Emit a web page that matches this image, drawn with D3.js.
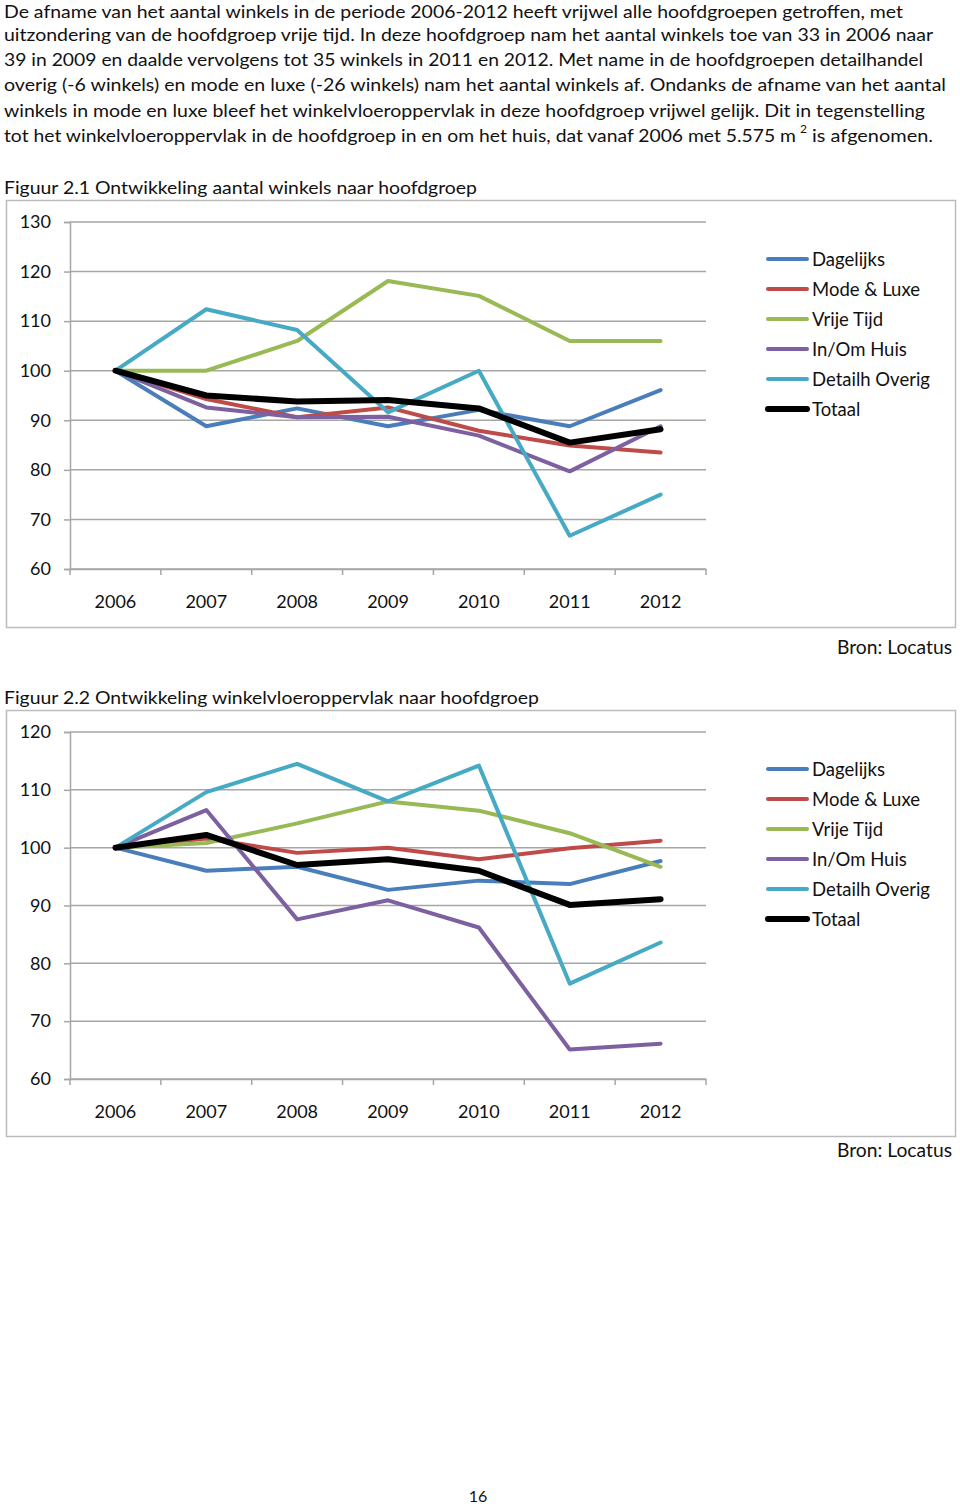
<!DOCTYPE html>
<html><head><meta charset="utf-8">
<script src="https://cdn.jsdelivr.net/npm/d3@7"></script>
<style>
body{margin:0;background:#fff;}
svg{display:block;font-family:Lato, "Open Sans", sans-serif;}
</style></head>
<body>
<svg id="page" width="960" height="1506"></svg>
<script>
const years = ["2006","2007","2008","2009","2010","2011","2012"];
const seriesNames = ["Dagelijks","Mode & Luxe","Vrije Tijd","In/Om Huis","Detailh Overig","Totaal"];
const seriesColors = ["#4A7EBB","#BE4B48","#98B954","#7D60A0","#46AAC5","#000000"];

// Figuur 2.1 - aantal winkels (index 2006 = 100)
const winkelsDagelijks = [100, 88.8, 92.4, 88.8, 92.1, 88.8, 96.1];
const winkelsMode      = [100, 94.3, 90.6, 92.6, 87.9, 84.9, 83.5];
const winkelsVrije     = [100, 100, 106.0, 118.1, 115.1, 106.0, 106.0];
const winkelsHuis      = [100, 92.6, 90.6, 90.7, 86.9, 79.7, 88.8];
const winkelsOverig    = [100, 112.4, 108.2, 91.6, 100, 66.7, 75.0];
const winkelsTotaal    = [100, 95.0, 93.8, 94.1, 92.4, 85.5, 88.2];
const ticks1 = [60,70,80,90,100,110,120,130];

// Figuur 2.2 - winkelvloeroppervlak (index 2006 = 100)
const wvoDagelijks = [100, 96.0, 96.7, 92.7, 94.3, 93.7, 97.7];
const wvoMode      = [100, 101.6, 99.1, 100.0, 98.0, 99.9, 101.2];
const wvoVrije     = [100, 100.8, 104.2, 108.0, 106.4, 102.5, 96.7];
const wvoHuis      = [100, 106.5, 87.6, 90.9, 86.2, 65.1, 66.1];
const wvoOverig    = [100, 109.6, 114.5, 108.0, 114.2, 76.5, 83.6];
const wvoTotaal    = [100, 102.2, 97.0, 98.0, 96.0, 90.1, 91.1];
const ticks2 = [60,70,80,90,100,110,120];

const paragraph = [
 "De afname van het aantal winkels in de periode 2006-2012 heeft vrijwel alle hoofdgroepen getroffen, met",
 "uitzondering van de hoofdgroep vrije tijd. In deze hoofdgroep nam het aantal winkels toe van 33 in 2006 naar",
 "39 in 2009 en daalde vervolgens tot 35 winkels in 2011 en 2012. Met name in de hoofdgroepen detailhandel",
 "overig (-6 winkels) en mode en luxe (-26 winkels) nam het aantal winkels af. Ondanks de afname van het aantal",
 "winkels in mode en luxe bleef het winkelvloeroppervlak in deze hoofdgroep vrijwel gelijk. Dit in tegenstelling"
];
const paraWidths = [899, 929, 919, 942, 921];
const paraY = [18, 40.5, 66, 91, 116.5];

const svg = d3.select("#page");
const textCol = "#111";

// paragraph
paragraph.forEach((t,i)=>{
  svg.append("text").attr("x",4).attr("y",paraY[i]).attr("font-size",18)
    .attr("fill",textCol).attr("textLength",paraWidths[i]).attr("lengthAdjust","spacingAndGlyphs").text(t);
});
svg.append("text").attr("x",4).attr("y",142).attr("font-size",18).attr("fill",textCol)
  .attr("textLength",792).attr("lengthAdjust","spacingAndGlyphs")
  .text("tot het winkelvloeroppervlak in de hoofdgroep in en om het huis, dat vanaf 2006 met 5.575 m");
svg.append("text").attr("x",800).attr("y",133).attr("font-size",12).attr("fill",textCol).text("2");
svg.append("text").attr("x",812).attr("y",142).attr("font-size",18).attr("fill",textCol)
  .attr("textLength",121).attr("lengthAdjust","spacingAndGlyphs").text("is afgenomen.");

function chart(cfg){
  const g = svg.append("g");
  // title
  svg.append("text").attr("x",4).attr("y",cfg.titleY).attr("font-size",18).attr("fill",textCol)
    .attr("textLength",cfg.titleW).attr("lengthAdjust","spacingAndGlyphs").text(cfg.title);
  // border
  g.append("rect").attr("x",6.5).attr("y",cfg.boxTop+0.5).attr("width",949).attr("height",cfg.boxBottom-cfg.boxTop)
    .attr("fill","#fff").attr("stroke","#bcbcbc").attr("stroke-width",1.5);
  const x = d3.scaleBand().domain(years).range([70,706]);
  const y = d3.scaleLinear().domain(cfg.domain).range([cfg.yBottom,cfg.yTop]);
  // gridlines
  g.append("g").selectAll("line").data(cfg.ticks).join("line")
    .attr("x1",70).attr("x2",706).attr("y1",d=>y(d)).attr("y2",d=>y(d))
    .attr("stroke","#a6a6a6").attr("stroke-width",1.5);
  // y axis
  const ya = g.append("g").attr("transform","translate(70,0)")
    .call(d3.axisLeft(y).tickValues(cfg.ticks).tickSize(6).tickPadding(13).tickFormat(d3.format("d")));
  ya.select(".domain").attr("stroke","#a6a6a6").attr("stroke-width",1.5);
  ya.selectAll(".tick line").attr("stroke","#a6a6a6").attr("stroke-width",1.5);
  ya.selectAll(".tick text").attr("font-size",18).attr("font-family","Lato").attr("fill",textCol);
  // x axis
  const xa = g.append("g").attr("transform",`translate(0,${cfg.yBottom})`)
    .call(d3.axisBottom(x).tickSize(0).tickPadding(26));
  xa.select(".domain").attr("stroke","#a6a6a6").attr("stroke-width",1.5);
  xa.selectAll(".tick text").attr("font-size",18).attr("font-family","Lato").attr("fill",textCol);
  const bounds = years.map(c=>x(c)).concat([x.range()[1]]);
  xa.append("g").selectAll("line").data(bounds).join("line")
    .attr("x1",d=>d).attr("x2",d=>d).attr("y1",0).attr("y2",6)
    .attr("stroke","#a6a6a6").attr("stroke-width",1.5);
  // lines
  const line = d3.line().x((d,i)=>x(years[i])+x.bandwidth()/2).y(d=>y(d));
  cfg.series.forEach((vals,k)=>{
    g.append("path").datum(vals).attr("d",line).attr("fill","none")
      .attr("stroke",seriesColors[k]).attr("stroke-width",k===5?6:4)
      .attr("stroke-linejoin","round").attr("stroke-linecap","round");
  });
  // legend
  const lg = g.append("g");
  seriesNames.forEach((n,k)=>{
    const yy = cfg.legendY + k*30;
    lg.append("line").attr("x1",768).attr("x2",807).attr("y1",yy).attr("y2",yy)
      .attr("stroke",seriesColors[k]).attr("stroke-width",k===5?6:4).attr("stroke-linecap","round");
    lg.append("text").attr("x",812).attr("y",yy+6.5).attr("font-size",18.5).attr("fill",textCol).text(n);
  });
  // source
  svg.append("text").attr("x",837).attr("y",cfg.bronY).attr("font-size",18.5)
    .attr("textLength",115).attr("lengthAdjust","spacingAndGlyphs")
    .attr("fill",textCol).text("Bron: Locatus");
}

chart({title:"Figuur 2.1 Ontwikkeling aantal winkels naar hoofdgroep", titleY:194, titleW:473,
  boxTop:200, boxBottom:627, domain:[60,130], yTop:222, yBottom:569, ticks:ticks1,
  series:[winkelsDagelijks,winkelsMode,winkelsVrije,winkelsHuis,winkelsOverig,winkelsTotaal],
  legendY:259, bronY:654});

chart({title:"Figuur 2.2 Ontwikkeling winkelvloeroppervlak naar hoofdgroep", titleY:704, titleW:535,
  boxTop:710, boxBottom:1136, domain:[60,120], yTop:732, yBottom:1079, ticks:ticks2,
  series:[wvoDagelijks,wvoMode,wvoVrije,wvoHuis,wvoOverig,wvoTotaal],
  legendY:769, bronY:1157});

svg.append("text").attr("x",478).attr("y",1502).attr("text-anchor","middle").attr("font-size",16)
  .attr("fill",textCol).text("16");
</script>
</body></html>
